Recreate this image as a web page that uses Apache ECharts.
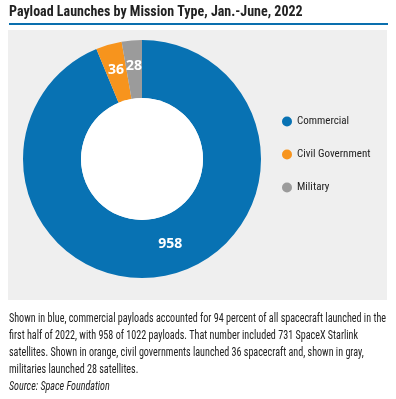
<!DOCTYPE html>
<html lang="en">

<head>
    <meta charset="UTF-8">
    <title>Payload Launches</title>
    <style>
        html, body { margin: 0; padding: 0; background: #fff; }
        #chart { width: 396px; height: 399px; }
    </style>
</head>

<body>
    <div id="chart"></div>
</body>
<script src="https://cdn.jsdelivr.net/npm/echarts@6/dist/echarts.min.js"></script>
<script>
    let categories = ['Commercial', 'Civil Government', 'Military'];
    let payloads = [958, 36, 28];
    let colors = ['#0872b3', '#f7941d', '#9b9b9b'];

    let titleText = 'Payload Launches by Mission Type, Jan.-June, 2022';
    let captionLines = [
        'Shown in blue, commercial payloads accounted for 94 percent of all spacecraft launched in the',
        'first half of 2022, with 958 of 1022 payloads. That number included 731 SpaceX Starlink',
        'satellites. Shown in orange, civil governments launched 36 spacecraft and, shown in gray,',
        'militaries launched 28 satellites.'
    ];
    let sourceText = 'Source: Space Foundation';

    let narrow = '"Liberation Sans Narrow", "Arial Narrow", "Roboto Condensed", Roboto, sans-serif';
    let captionFont = '12px ' + narrow;

    // squeeze the caption so the first line spans the panel width, like the condensed original
    let ctx = document.createElement('canvas').getContext('2d');
    ctx.font = captionFont;
    let squeeze = Math.min(1, 377 / ctx.measureText(captionLines[0]).width);

    var myChart = echarts.init(document.getElementById('chart'));

    let pieData = categories.map((name, i) => ({
        name: name,
        value: payloads[i],
        itemStyle: { color: colors[i] },
        label: i === 0 ? { offset: [10, -6] } : {}
    }));

    let captionEls = captionLines.concat([sourceText]).map((line, i) => ({
        type: 'text',
        x: 9,
        y: 313 + i * 17,
        scaleX: squeeze,
        style: {
            text: line,
            font: (i === captionLines.length ? 'italic ' : '') + captionFont,
            fill: '#222'
        }
    }));

    myChart.setOption({
        animation: false,
        graphic: [
            {
                type: 'rect',
                z: -10,
                shape: { x: 8, y: 30, width: 379, height: 270 },
                style: { fill: '#efefef' }
            },
            {
                type: 'rect',
                shape: { x: 9, y: 23, width: 379, height: 2 },
                style: { fill: '#0a6fae' }
            },
            {
                type: 'text',
                left: 9,
                top: 5,
                style: { text: titleText, font: 'bold 14px ' + narrow, fill: '#222' }
            }
        ].concat(captionEls),
        legend: {
            orient: 'vertical',
            left: 277,
            top: 111,
            itemGap: 22,
            icon: 'circle',
            itemWidth: 10,
            itemHeight: 10,
            textStyle: { fontFamily: narrow, fontSize: 11, color: '#222' },
            data: categories
        },
        series: [
            {
                type: 'pie',
                center: [142, 159],
                radius: [0, 61],
                silent: true,
                label: { show: false },
                labelLine: { show: false },
                itemStyle: { color: '#fff' },
                data: [{ name: '', value: 1 }],
                z: 5
            },
            {
                type: 'pie',
                center: [142, 159],
                radius: [61, 119],
                startAngle: 90,
                clockwise: true,
                avoidLabelOverlap: false,
                label: {
                    show: true,
                    position: 'inside',
                    formatter: '{c}',
                    color: '#fff',
                    fontWeight: 'bold',
                    fontSize: 14,
                    fontFamily: 'Open Sans, sans-serif'
                },
                emphasis: { disabled: true },
                data: pieData
            }
        ]
    });
</script>

</html>
